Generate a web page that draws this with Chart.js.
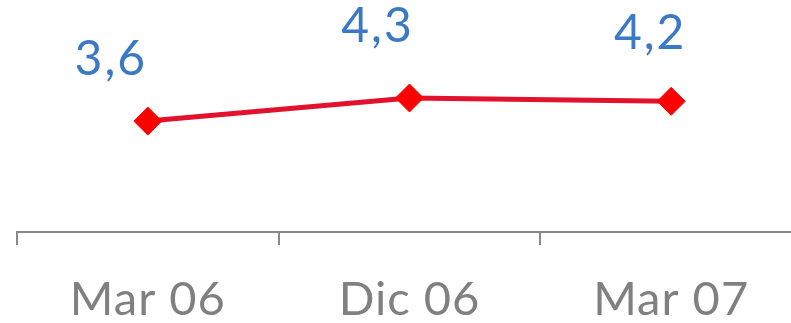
<!DOCTYPE html>
<html>
<head>
<meta charset="utf-8">
<script src="https://cdn.jsdelivr.net/npm/chart.js@4/dist/chart.umd.min.js"></script>
<style>
  html, body { margin: 0; padding: 0; background: #fff; overflow: hidden; }
  #wrap { position: absolute; left: 0; top: 0; width: 791px; height: 323px; overflow: hidden; }
  canvas { display: block; }
</style>
</head>
<body>
<div id="wrap"><canvas id="c" width="802" height="323"></canvas></div>
<script>
// Periods shown on the category axis
const periods = ['Mar 06', 'Dic 06', 'Mar 07'];
// Indicator values per period
const values = [3.6, 4.3, 4.2];

const FONT = 'Lato, "Open Sans", sans-serif';
const BLUE = '#3b78c6';
const GREY = '#808080';

// Slightly open tracking for all text on the canvas
const tracking = {
  id: 'tracking',
  beforeDraw(chart) { chart.ctx.letterSpacing = '1px'; }
};

// Value labels written above each point, with a decimal comma
const labelNudge = [[-37, -46], [-32, -56], [-21, -52]];
const valueLabels = {
  id: 'valueLabels',
  afterDatasetsDraw(chart) {
    const { ctx } = chart;
    const meta = chart.getDatasetMeta(0);
    ctx.save();
    ctx.font = '48px ' + FONT;
    ctx.letterSpacing = '2px';
    ctx.fillStyle = BLUE;
    ctx.textAlign = 'center';
    ctx.textBaseline = 'alphabetic';
    meta.data.forEach((pt, i) => {
      const txt = values[i].toFixed(1).replace('.', ',');
      const [dx, dy] = labelNudge[i];
      ctx.fillText(txt, pt.x + dx, pt.y + dy);
    });
    ctx.restore();
  }
};

new Chart(document.getElementById('c'), {
  type: 'line',
  data: {
    labels: periods,
    datasets: [{
      data: values,
      borderColor: '#e2122f',
      borderWidth: 5,
      pointStyle: 'rectRot',
      pointRadius: 14,
      pointHoverRadius: 14,
      pointBackgroundColor: '#ff0000',
      pointBorderColor: '#ff0000',
      pointBorderWidth: 1,
      tension: 0,
      clip: false
    }]
  },
  options: {
    responsive: false,
    animation: false,
    events: [],
    layout: { autoPadding: false, padding: { left: 17, right: 0, top: 0, bottom: 0 } },
    plugins: { legend: { display: false }, tooltip: { enabled: false } },
    scales: {
      x: {
        offset: true,
        grid: {
          offset: true,
          drawOnChartArea: false,
          drawTicks: true,
          tickLength: 13,
          color: '#898989',
          lineWidth: 2
        },
        border: { display: true, color: '#898989', width: 2 },
        ticks: {
          color: GREY,
          font: { family: FONT, size: 47 },
          padding: 27,
          maxRotation: 0,
          autoSkip: false
        },
        afterFit(scale) { scale.height = 91; scale.paddingLeft = 0; scale.paddingRight = 0; }
      },
      y: {
        display: false,
        min: 0.24,
        max: 7.27
      }
    }
  },
  plugins: [tracking, valueLabels]
});
</script>
</body>
</html>
